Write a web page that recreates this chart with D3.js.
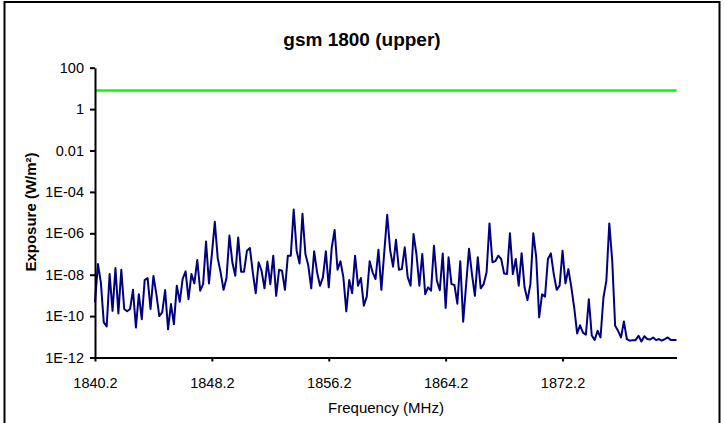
<!DOCTYPE html>
<html>
<head>
<meta charset="utf-8">
<script src="https://cdn.jsdelivr.net/npm/d3@7"></script>
<style>
  html, body { margin: 0; padding: 0; background: #fff; }
  svg { display: block; }
  text { font-family: "Liberation Sans", Arial, sans-serif; fill: #000; }
</style>
</head>
<body>
<svg id="chart" width="724" height="423"></svg>
<script>
const chartTitle = "gsm 1800 (upper)";
const xAxisTitle = "Frequency (MHz)";
const yAxisTitle = "Exposure (W/m²)";

const frequencies = [
  1840.2,1840.4,1840.6,1840.8,1841.0,1841.2,1841.4,1841.6,1841.8,1842.0,
  1842.2,1842.4,1842.6,1842.8,1843.0,1843.2,1843.4,1843.6,1843.8,1844.0,
  1844.2,1844.4,1844.6,1844.8,1845.0,1845.2,1845.4,1845.6,1845.8,1846.0,
  1846.2,1846.4,1846.6,1846.8,1847.0,1847.2,1847.4,1847.6,1847.8,1848.0,
  1848.2,1848.4,1848.6,1848.8,1849.0,1849.2,1849.4,1849.6,1849.8,1850.0,
  1850.2,1850.4,1850.6,1850.8,1851.0,1851.2,1851.4,1851.6,1851.8,1852.0,
  1852.2,1852.4,1852.6,1852.8,1853.0,1853.2,1853.4,1853.6,1853.8,1854.0,
  1854.2,1854.4,1854.6,1854.8,1855.0,1855.2,1855.4,1855.6,1855.8,1856.0,
  1856.2,1856.4,1856.6,1856.8,1857.0,1857.2,1857.4,1857.6,1857.8,1858.0,
  1858.2,1858.4,1858.6,1858.8,1859.0,1859.2,1859.4,1859.6,1859.8,1860.0,
  1860.2,1860.4,1860.6,1860.8,1861.0,1861.2,1861.4,1861.6,1861.8,1862.0,
  1862.2,1862.4,1862.6,1862.8,1863.0,1863.2,1863.4,1863.6,1863.8,1864.0,
  1864.2,1864.4,1864.6,1864.8,1865.0,1865.2,1865.4,1865.6,1865.8,1866.0,
  1866.2,1866.4,1866.6,1866.8,1867.0,1867.2,1867.4,1867.6,1867.8,1868.0,
  1868.2,1868.4,1868.6,1868.8,1869.0,1869.2,1869.4,1869.6,1869.8,1870.0,
  1870.2,1870.4,1870.6,1870.8,1871.0,1871.2,1871.4,1871.6,1871.8,1872.0,
  1872.2,1872.4,1872.6,1872.8,1873.0,1873.2,1873.4,1873.6,1873.8,1874.0,
  1874.2,1874.4,1874.6,1874.8,1875.0,1875.2,1875.4,1875.6,1875.8,1876.0,
  1876.2,1876.4,1876.6,1876.8,1877.0,1877.2,1877.4,1877.6,1877.8,1878.0,
  1878.2,1878.4,1878.6,1878.8,1879.0,1879.2,1879.4,1879.6,1879.8,1880.0
];

const exposure = [
  4.6e-10,3.3e-8,4.3e-9,5.0e-11,3.2e-11,1.07e-8,1.8e-10,2.1e-8,1.35e-10,1.74e-8,
  2.2e-10,1.7e-10,2.2e-10,1.86e-9,2.8e-11,1.15e-9,7.1e-11,5.5e-9,6.9e-9,2.2e-10,
  8.7e-9,1.15e-9,1.0e-10,1.5e-10,1.8e-9,2.3e-11,3.8e-10,4.1e-11,2.95e-9,4.9e-10,
  6.2e-9,1.45e-8,6.6e-10,1.07e-8,3.8e-9,5.1e-8,1.7e-9,3.5e-9,4.0e-7,3.8e-9,
  1.0e-7,3.6e-6,6.3e-8,1.26e-8,1.86e-9,6.9e-9,7.8e-7,4.0e-8,8.9e-9,6.3e-7,
  1.4e-8,1.4e-8,1.45e-7,1.95e-7,1.3e-8,1.26e-9,4.0e-8,1.55e-8,2.2e-9,4.3e-8,
  3.5e-9,8.3e-8,9.5e-10,1.74e-8,1.55e-8,1.86e-9,8.3e-8,8.3e-8,1.4e-5,1.45e-7,
  3.5e-8,8.7e-6,1.0e-7,2.75e-8,2.2e-9,1.35e-7,1.3e-8,2.95e-9,7.4e-9,1.35e-7,
  2.45e-9,1.95e-7,1.45e-6,1.74e-8,4.5e-8,7.4e-9,1.7e-10,5.5e-9,1.26e-9,8.3e-8,
  2.95e-9,6.9e-9,3.2e-10,8.7e-10,4.5e-8,1.3e-8,6.2e-9,1.6e-7,1.86e-9,1.26e-7,
  7.8e-6,1.55e-7,2.45e-8,4.9e-7,1.74e-8,1.86e-8,2.1e-7,7.9e-9,2.95e-9,9.3e-7,
  1.0e-7,2.95e-9,1.0e-7,1.15e-9,2.45e-9,1.7e-9,2.5e-7,5.1e-9,1.8e-9,1.07e-7,
  2.5e-10,6.9e-8,3.5e-9,3.2e-9,4.0e-10,4.5e-8,5.4e-11,3.2e-9,1.8e-7,1.07e-8,
  9.5e-10,6.9e-8,2.2e-9,3.5e-9,1.3e-8,3.0e-6,4.0e-8,4.5e-8,8.3e-8,5.75e-8,
  1.15e-8,1.07e-8,1.0e-6,1.07e-8,5.75e-8,2.95e-9,1.1e-7,2.45e-9,5.9e-10,3.5e-9,
  1.0e-6,6.9e-8,8.7e-11,1.15e-9,8.7e-10,5.75e-8,1.07e-7,1.07e-8,1.86e-9,2.95e-9,
  1.45e-7,3.8e-9,1.86e-8,2.5e-9,2.5e-10,1.45e-11,3.6e-11,1.6e-11,1.26e-11,6.6e-10,
  1.15e-11,7.1e-12,1.95e-11,9.3e-12,7.9e-10,5.1e-9,3.0e-6,4.8e-8,3.4e-11,1.95e-11,
  9.3e-12,5.5e-11,7.8e-12,6.5e-12,6.9e-12,6.9e-12,1.12e-11,5.9e-12,1.07e-11,7.8e-12,
  7.4e-12,9.3e-12,6.9e-12,7.8e-12,6.5e-12,7.8e-12,9.3e-12,7.1e-12,7.1e-12,7.1e-12
];

const limitValue = [8, 8];
const limitRange = [1840.2, 1880.0];

const xTicks = [1840.2, 1848.2, 1856.2, 1864.2, 1872.2];
const yTicks = [100, 1, 0.01, 1e-4, 1e-6, 1e-8, 1e-10, 1e-12];
const yTickLabels = ["100", "1", "0.01", "1E-04", "1E-06", "1E-08", "1E-10", "1E-12"];

const svg = d3.select("#chart");

// outer frame
svg.append("path")
  .attr("d", "M4.5,424 V2 H719.5 V424")
  .attr("fill", "none").attr("stroke", "#000").attr("stroke-width", 2);

const plot = { left: 95, right: 676.5, top: 67.7, bottom: 357.5 };

const x = d3.scaleLinear().domain([1840.2, 1880.0]).range([plot.left, plot.right]);
const y = d3.scaleLog().domain([1e-12, 100]).range([plot.bottom, plot.top]);

// title
svg.append("text")
  .attr("x", 362).attr("y", 46)
  .attr("text-anchor", "middle")
  .style("font-size", "19px").style("font-weight", "bold")
  .text(chartTitle);

// limit line
svg.append("path")
  .datum(limitRange.map((f, i) => [f, limitValue[i]]))
  .attr("d", d3.line().x(d => x(d[0])).y(d => y(d[1])))
  .attr("stroke", "#00FF00").attr("stroke-width", 2.5).attr("fill", "none");

// data line
svg.append("path")
  .datum(frequencies.map((f, i) => [f, exposure[i]]))
  .attr("d", d3.line().x(d => x(d[0])).y(d => y(d[1])))
  .attr("stroke", "#000080").attr("stroke-width", 2)
  .attr("stroke-linejoin", "round")
  .attr("fill", "none");

// x axis
const xAxis = svg.append("g")
  .attr("transform", `translate(0,${plot.bottom})`)
  .call(d3.axisBottom(x).tickValues(xTicks).tickFormat(d3.format(".1f"))
        .tickSize(4).tickSizeOuter(0).tickPadding(16));
xAxis.select(".domain").attr("stroke", "#000").attr("stroke-width", 2);
xAxis.selectAll(".tick line").attr("stroke", "#000").attr("stroke-width", 2);
xAxis.selectAll(".tick text").style("font-size", "14.5px").attr("font-family", null);

// y axis
const yAxis = svg.append("g")
  .attr("transform", `translate(${plot.left},0)`)
  .call(d3.axisLeft(y).tickValues(yTicks).tickFormat((d, i) => yTickLabels[i])
        .tickSize(5).tickSizeOuter(0).tickPadding(6));
yAxis.select(".domain").attr("stroke", "#000").attr("stroke-width", 2);
yAxis.selectAll(".tick line").attr("stroke", "#000").attr("stroke-width", 2);
yAxis.selectAll(".tick text").style("font-size", "14.5px").attr("font-family", null);

// axis titles
svg.append("text")
  .attr("x", 386).attr("y", 413)
  .attr("text-anchor", "middle")
  .style("font-size", "15px")
  .text(xAxisTitle);

svg.append("text")
  .attr("transform", "translate(36,212) rotate(-90)")
  .attr("text-anchor", "middle")
  .style("font-size", "15px").style("font-weight", "bold")
  .text(yAxisTitle);
</script>
</body>
</html>
